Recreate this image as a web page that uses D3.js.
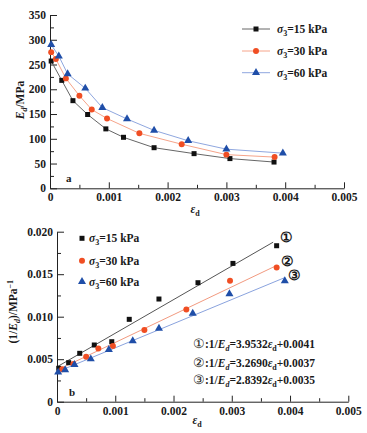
<!DOCTYPE html>
<html><head><meta charset="utf-8">
<script src="https://cdn.jsdelivr.net/npm/d3@7"></script>
<style>
body{margin:0;background:#fff;}
svg text{font-family:"Liberation Serif","Times New Roman",serif;font-weight:bold;fill:#1a1a1a;}
</style></head>
<body><svg id="c" width="367" height="433"></svg>
<script>
// ---- data ----
const seriesNames = ["15", "30", "60"];
// chart a: E_d vs eps_d
const epsA15 = [0.00002,0.0002,0.00039,0.00064,0.00095,0.00125,0.00177,0.00245,0.00306,0.00381];
const EA15   = [257,218,177,149,120,103,82,70,60,53];
const epsA30 = [0.00002,0.0001,0.00027,0.0005,0.00071,0.00097,0.00152,0.00224,0.003,0.00382];
const EA30   = [275,261,222,187,159,141,111,89,68,63];
const epsA60 = [0.00002,0.00015,0.0003,0.0006,0.00089,0.00131,0.00177,0.00235,0.003,0.00396];
const EA60   = [290,267,231,202,163,140,117,96,79,71];
// chart b: 1/E_d vs eps_d
const epsB15 = [0.00003,0.0002,0.00039,0.00064,0.00094,0.00124,0.00175,0.00242,0.00302,0.00377];
const invB15 = [0.00393,0.00459,0.00569,0.00667,0.00706,0.00969,0.01208,0.0140,0.01627,0.01835];
const epsB30 = [0.00009,0.00028,0.0005,0.00071,0.00096,0.0015,0.00222,0.00297,0.00377];
const invB30 = [0.00381,0.00443,0.0053,0.00627,0.00655,0.00843,0.01086,0.01424,0.0158];
const epsB60 = [0.00002,0.00014,0.0003,0.00058,0.00089,0.0013,0.00175,0.00233,0.00296,0.00391];
const invB60 = [0.00346,0.00373,0.00435,0.00502,0.00612,0.00716,0.00863,0.01039,0.01267,0.0142];
const fitSlope = [3.9532, 3.2690, 2.8392];
const fitIntercept = [0.0041, 0.0037, 0.0035];
const fitXEnd = [0.00371, 0.00377, 0.00391];
const fitLabels = ["①","②","③"];
const xTicks = [0,0.001,0.002,0.003,0.004,0.005];
const yTicksA = [0,50,100,150,200,250,300,350];
const yTicksB = [0,0.005,0.010,0.015,0.020];

const markerColors = ["#111111","#f04e23","#1f4ea8"];
const lineColorsA = ["#666666","#f6a48a","#8fa7df"];
const lineColorsB = ["#555555","#f29a80","#8aa3de"];
const symbols = [d3.symbolSquare, d3.symbolCircle, d3.symbolTriangle];
const symSizes = [25, 28, 28];

const svg = d3.select("#c");
const fmt = d => d === 0 ? "0" : d3.format(".3f")(d);

function axes(g, x, y, yTicks, yMinor, yFmt) {
  const xMinor = d3.range(0.0005, 0.005, 0.001);
  g.append("g").attr("transform", `translate(0,${y.range()[0]})`)
    .call(d3.axisBottom(x).tickValues(xTicks).tickFormat(fmt).tickSizeInner(-6).tickSizeOuter(0).tickPadding(5))
    .call(s => s.selectAll("text").attr("font-size", 11.5).attr("font-family", null))
    .call(s => s.select(".domain").attr("stroke", "#222"));
  g.append("g").attr("transform", `translate(0,${y.range()[0]})`)
    .call(d3.axisBottom(x).tickValues(xMinor).tickFormat("").tickSizeInner(-3.5).tickSizeOuter(0))
    .call(s => s.select(".domain").remove());
  g.append("g").attr("transform", `translate(${x.range()[0]},0)`)
    .call(d3.axisLeft(y).tickValues(yTicks).tickFormat(yFmt).tickSizeInner(-7).tickSizeOuter(0).tickPadding(4))
    .call(s => s.selectAll("text").attr("font-size", 11.5).attr("font-family", null))
    .call(s => s.select(".domain").attr("stroke", "#222"));
  g.append("g").attr("transform", `translate(${x.range()[0]},0)`)
    .call(d3.axisLeft(y).tickValues(yMinor).tickFormat("").tickSizeInner(-4).tickSizeOuter(0))
    .call(s => s.select(".domain").remove());
  g.selectAll(".tick line").attr("stroke", "#222");
}

// ---- chart a ----
const xA = d3.scaleLinear().domain([0, 0.005]).range([50, 344]);
const yA = d3.scaleLinear().domain([0, 350]).range([188.3, 15]);
const gA = svg.append("g");
axes(gA, xA, yA, yTicksA, d3.range(25, 350, 50), d3.format("d"));

const dataA = [
  epsA15.map((e,i)=>[e,EA15[i]]),
  epsA30.map((e,i)=>[e,EA30[i]]),
  epsA60.map((e,i)=>[e,EA60[i]])
];
dataA.forEach((pts, k) => {
  gA.append("path").attr("d", d3.line().x(d=>xA(d[0])).y(d=>yA(d[1]))(pts))
    .attr("fill","none").attr("stroke", lineColorsA[k]).attr("stroke-width", 1);
  gA.selectAll(null).data(pts).enter().append("path")
    .attr("d", d3.symbol().type(symbols[k]).size(symSizes[k]))
    .attr("transform", d=>`translate(${xA(d[0])},${yA(d[1])})`)
    .attr("fill", markerColors[k]);
});
// legend a
seriesNames.forEach((n,k)=>{
  const yy = [29, 51, 72.7][k];
  gA.append("line").attr("x1",242).attr("x2",270).attr("y1",yy).attr("y2",yy)
    .attr("stroke", lineColorsA[k]).attr("stroke-width",1);
  gA.append("path").attr("d", d3.symbol().type(symbols[k]).size(symSizes[k]))
    .attr("transform",`translate(256,${yy})`).attr("fill", markerColors[k]);
  const t = gA.append("text").attr("x",277).attr("y",yy+4).attr("font-size",11.5);
  t.append("tspan").attr("font-style","italic").text("σ");
  t.append("tspan").attr("font-size",8).attr("dy",3).text("3");
  t.append("tspan").attr("dy",-3).text("=" + n + " kPa");
});
gA.append("text").attr("x",66).attr("y",182).attr("font-size",11).attr("font-weight","normal").text("a");
// axis titles a
{
  const t = gA.append("text").attr("transform","translate(24,100) rotate(-90)").attr("text-anchor","middle").attr("font-size",11.5);
  t.append("tspan").attr("font-style","italic").text("E");
  t.append("tspan").attr("font-size",8).attr("font-style","italic").attr("dy",3).text("d");
  t.append("tspan").attr("dy",-3).text("/MPa");
  const u = gA.append("text").attr("x",195).attr("y",213).attr("text-anchor","middle").attr("font-size",11.5);
  u.append("tspan").attr("font-style","italic").text("ε");
  u.append("tspan").attr("font-size",8).attr("dy",3).text("d");
}

// ---- chart b ----
const xB = d3.scaleLinear().domain([0, 0.005]).range([57, 348.3]);
const yB = d3.scaleLinear().domain([0, 0.020]).range([401.7, 231.7]);
const gB = svg.append("g");
axes(gB, xB, yB, yTicksB, d3.range(0.0025, 0.02, 0.005), fmt);

const dataB = [
  epsB15.map((e,i)=>[e,invB15[i]]),
  epsB30.map((e,i)=>[e,invB30[i]]),
  epsB60.map((e,i)=>[e,invB60[i]])
];
fitSlope.forEach((m,k)=>{
  const x0 = 0, x1 = fitXEnd[k];
  gB.append("line").attr("x1",xB(x0)).attr("y1",yB(fitIntercept[k]+m*x0))
    .attr("x2",xB(x1)).attr("y2",yB(fitIntercept[k]+m*x1))
    .attr("stroke",lineColorsB[k]).attr("stroke-width",1);
});
dataB.forEach((pts,k)=>{
  gB.selectAll(null).data(pts).enter().append("path")
    .attr("d", d3.symbol().type(symbols[k]).size(symSizes[k]))
    .attr("transform", d=>`translate(${xB(d[0])},${yB(d[1])})`)
    .attr("fill", markerColors[k]);
});
// circled labels
[[286,241.5],[287.5,265.5],[294.5,279.5]].forEach((p,k)=>{
  gB.append("text").attr("x",p[0]).attr("y",p[1]).attr("text-anchor","middle")
    .attr("font-size",14).attr("font-weight","normal").style("font-family","DejaVu Serif")
    .text(fitLabels[k]);
});
// legend b
seriesNames.forEach((n,k)=>{
  const yy = [238.3, 260.7, 281.7][k];
  gB.append("path").attr("d", d3.symbol().type(symbols[k]).size(symSizes[k]))
    .attr("transform",`translate(82,${yy})`).attr("fill", markerColors[k]);
  const t = gB.append("text").attr("x",89).attr("y",yy+4).attr("font-size",11.5);
  t.append("tspan").attr("font-style","italic").text("σ");
  t.append("tspan").attr("font-size",8).attr("dy",3).text("3");
  t.append("tspan").attr("dy",-3).text("=" + n + " kPa");
});
// equations
fitSlope.forEach((m,k)=>{
  const yy = [348, 366.5, 384][k];
  const t = gB.append("text").attr("x",193).attr("y",yy).attr("font-size",11.5);
  t.append("tspan").attr("font-weight","normal").style("font-family","DejaVu Serif").attr("font-size",12.5).text(fitLabels[k]);
  t.append("tspan").text(":1/");
  t.append("tspan").attr("font-style","italic").text("E");
  t.append("tspan").attr("font-size",8).attr("font-style","italic").attr("dy",3).text("d");
  t.append("tspan").attr("dy",-3).text("=" + m.toFixed(4));
  t.append("tspan").attr("font-style","italic").text("ε");
  t.append("tspan").attr("font-size",8).attr("dy",3).text("d");
  t.append("tspan").attr("dy",-3).text("+" + fitIntercept[k].toFixed(4));
});
gB.append("text").attr("x",69).attr("y",396).attr("font-size",11).attr("font-weight","normal").text("b");
{
  const t = gB.append("text").attr("transform","translate(17,311.7) rotate(-90)").attr("text-anchor","middle").attr("font-size",11.5);
  t.append("tspan").text("(1/");
  t.append("tspan").attr("font-style","italic").text("E");
  t.append("tspan").attr("font-size",8).attr("font-style","italic").attr("dy",3).text("d");
  t.append("tspan").attr("dy",-3).text(")/MPa");
  t.append("tspan").attr("font-size",8).attr("dy",-4).text("−1");
  const u = gB.append("text").attr("x",197).attr("y",424).attr("text-anchor","middle").attr("font-size",11.5);
  u.append("tspan").attr("font-style","italic").text("ε");
  u.append("tspan").attr("font-size",8).attr("dy",3).text("d");
}
</script></body></html>
